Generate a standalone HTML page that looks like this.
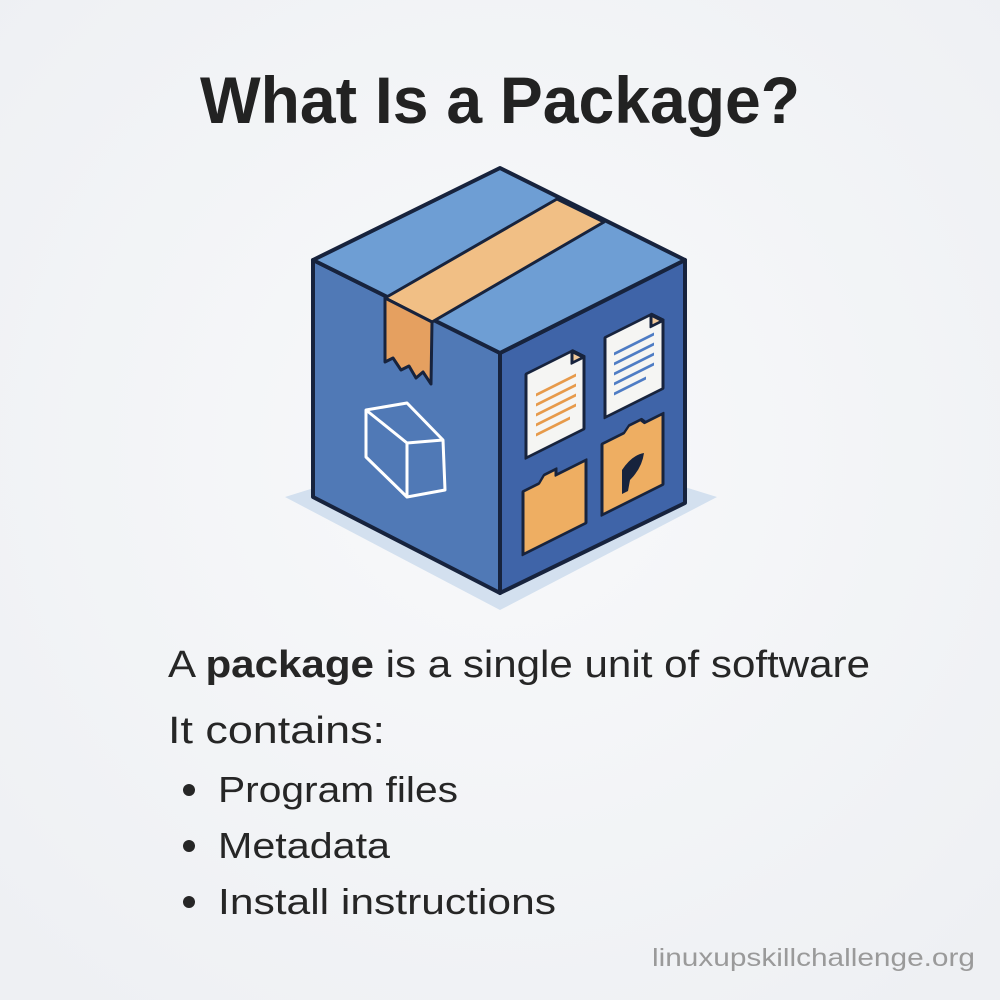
<!DOCTYPE html>
<html><head><meta charset="utf-8"><style>
html,body{margin:0;padding:0;width:1000px;height:1000px;overflow:hidden;background:#f4f5f7}
svg{display:block}
</style></head><body>
<svg width="1000" height="1000" viewBox="0 0 1000 1000" xmlns="http://www.w3.org/2000/svg">
<defs>
<radialGradient id="bg" cx="50%" cy="45%" r="70%"><stop offset="0" stop-color="#f8f9fb"/><stop offset="1" stop-color="#eef0f3"/></radialGradient>
</defs>
<rect width="1000" height="1000" fill="url(#bg)"/>
<text x="200" y="123" font-family="Liberation Sans, sans-serif" font-weight="bold" font-size="66" fill="#222" textLength="600" lengthAdjust="spacingAndGlyphs">What Is a Package?</text>

<!-- shadow -->
<polygon points="285,497 500,610 717,497 500,430" fill="#d3e0ef"/>
<!-- faces -->
<g stroke="#17233d" stroke-width="4" stroke-linejoin="round">
<polygon points="313,260 500,353 500,593 313,497" fill="#5079b6"/>
<polygon points="500,353 685,260 685,503 500,593" fill="#3f64a8"/>
<polygon points="500,168 685,260 500,353 313,260" fill="#6e9ed4"/>
</g>
<!-- tape -->
<polygon points="557,199 604,222 432,322 385,298" fill="#f1bf85" stroke="#17233d" stroke-width="3" stroke-linejoin="round"/>
<polygon points="385,298 432,322 431,384 423,372 416,378 409,366 401,370 393,358 385,362" fill="#e5a060" stroke="#17233d" stroke-width="3" stroke-linejoin="round"/>
<!-- small cube icon -->
<g fill="none" stroke="#ffffff" stroke-width="3" stroke-linejoin="round">
<polygon points="366,410 407,403 443,440 445,490 407,497 366,457"/>
<polyline points="366,410 407,443 443,440"/>
<line x1="407" y1="443" x2="407" y2="497"/>
</g>
<!-- right face items -->
<g transform="matrix(1,-0.5,0,1,500,353)" stroke="#17233d" stroke-width="3" stroke-linejoin="round">
  <path d="M26,34 h46 l12,12 v72 h-58 z" fill="#f5f5f3"/>
  <path d="M72,34 v12 h12 z" fill="#f0c89a"/>
  <g stroke="#e79a4a" stroke-width="3"><line x1="36" y1="60" x2="76" y2="60"/><line x1="36" y1="70" x2="76" y2="70"/><line x1="36" y1="80" x2="76" y2="80"/><line x1="36" y1="90" x2="76" y2="90"/><line x1="36" y1="100" x2="70" y2="100"/></g>
  <path d="M105,37 h46 l12,12 v68 h-58 z" fill="#f5f5f3"/>
  <path d="M151,37 v12 h12 z" fill="#f0c89a"/>
  <g stroke="#4e7cc4" stroke-width="3"><line x1="114" y1="58" x2="154" y2="58"/><line x1="114" y1="68" x2="154" y2="68"/><line x1="114" y1="78" x2="154" y2="78"/><line x1="114" y1="88" x2="154" y2="88"/><line x1="114" y1="98" x2="146" y2="98"/></g>
  <path d="M23,150 h16 l5,-6 h12 v6 h30 v63 h-63 z" fill="#eeae62"/>
  <path d="M102,142 h22 l5,-5 h12 l4,5 h18 v71 h-61 z" fill="#eeae62"/>
  <path d="M122,178 q10,-10 22,-6 q-2,14 -14,20 l-2,10 h-6 z" fill="#17233d" stroke="none"/>
</g>

<g font-family="Liberation Sans, sans-serif" fill="#262626">
<text x="168" y="677" font-size="38" textLength="702" lengthAdjust="spacingAndGlyphs">A <tspan font-weight="bold">package</tspan> is a single unit of software</text>
<text x="168" y="743" font-size="38" textLength="217" lengthAdjust="spacingAndGlyphs">It contains:</text>
<circle cx="189" cy="790" r="6"/><circle cx="189" cy="846" r="6"/><circle cx="189" cy="902" r="6"/>
<text x="218" y="802" font-size="36" textLength="240" lengthAdjust="spacingAndGlyphs">Program files</text>
<text x="218" y="858" font-size="36" textLength="172" lengthAdjust="spacingAndGlyphs">Metadata</text>
<text x="218" y="914" font-size="36" textLength="338" lengthAdjust="spacingAndGlyphs">Install instructions</text>
<text x="652" y="966" font-size="25" fill="#9a9a9a" textLength="323" lengthAdjust="spacingAndGlyphs">linuxupskillchallenge.org</text>
</g>
</svg>
</body></html>
